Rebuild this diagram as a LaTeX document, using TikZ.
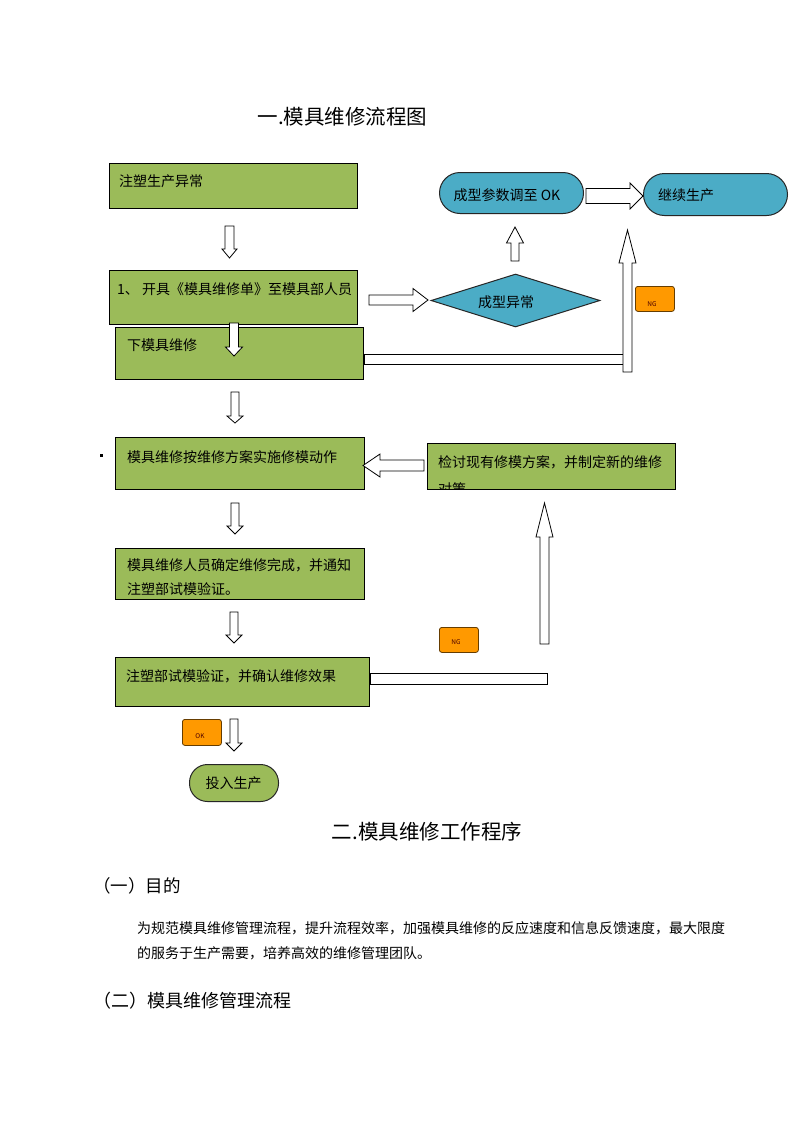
\documentclass[tikz,border=0pt]{standalone}
\usepackage{fontspec}
\setmainfont{Noto Sans CJK SC}
\usetikzlibrary{shapes.geometric}

\definecolor{boxgreen}{HTML}{9BBB59}
\definecolor{boxblue}{HTML}{4BACC6}
\definecolor{tagorange}{HTML}{FF9900}

% hollow block arrows: position, from, to, head length, shaft half width, head half width
\newcommand{\vblockarrow}[6]{%
  \draw[hollow] ({#1-#5},#2) -- ({#1+#5},#2) -- ({#1+#5},{#3-(#4)}) -- ({#1+#6},{#3-(#4)}) -- (#1,#3)
    -- ({#1-#6},{#3-(#4)}) -- ({#1-#5},{#3-(#4)}) -- cycle;}
\newcommand{\hblockarrow}[6]{%
  \draw[hollow] (#2,{#1-#5}) -- ({#3-(#4)},{#1-#5}) -- ({#3-(#4)},{#1-#6}) -- (#3,#1)
    -- ({#3-(#4)},{#1+#6}) -- ({#3-(#4)},{#1+#5}) -- (#2,{#1+#5}) -- cycle;}

\tikzset{
  gbox/.style={draw, fill=boxgreen, line width=1pt, anchor=north west, inner sep=0pt},
  pill/.style={draw=black!85, fill=boxblue, line width=1pt, anchor=north west, inner sep=0pt},
  tag/.style={draw=black!60!tagorange, fill=tagorange, line width=0.8pt, rounded corners=2.5pt,
    anchor=north west, inner sep=0pt, minimum width=39pt, minimum height=25pt},
  btext/.style={anchor=west, inner sep=0pt, font=\fontsize{14}{16}\selectfont},
  tagtext/.style={inner sep=0pt, text=black!70!red, font=\fontsize{6.5}{7}\selectfont},
  hollow/.style={draw, fill=white, line width=0.8pt, line join=miter},
}

\begin{document}
\begin{tikzpicture}[x=1pt,y=-1pt]
\useasboundingbox[fill=white] (0,0) rectangle (793,1122);

% title
\node[font=\fontsize{20.5}{24}\selectfont, inner sep=0pt] (title1) at (342.5,117) {一.模具维修流程图};

% left column
\node[gbox, minimum width=248pt, minimum height=45pt] (fault) at (109,163) {};
\node[btext] (faultt) at (119,181) {注塑生产异常};
\node[gbox, minimum width=248pt, minimum height=54pt] (order) at (109,270) {};
\node[btext] (ordert) at (117,289) {1、 开具《模具维修单》至模具部人员};
\node[gbox, minimum width=248pt, minimum height=52pt] (unload) at (115,327) {};
\node[btext] (unloadt) at (127,345) {下模具维修};
\node[gbox, minimum width=249pt, minimum height=52pt] (repair) at (115,437) {};
\node[btext] (repairt) at (127,457) {模具维修按维修方案实施修模动作};
\node[fill, inner sep=1.5pt] (dot) at (101,455) {};
\node[gbox, minimum width=249pt, minimum height=51pt] (done) at (115,548) {};
\node[btext, anchor=north west, align=left, font=\fontsize{14}{24}\selectfont] (donet) at (127,558)
  {模具维修人员确定维修完成，并通知\\注塑部试模验证。};
\node[gbox, minimum width=254pt, minimum height=49pt] (trial) at (115,657) {};
\node[btext] (trialt) at (126,676) {注塑部试模验证，并确认维修效果};
\node[pill, fill=boxgreen, rounded corners=18pt, minimum width=89pt, minimum height=37pt] (run) at (189,764) {};
\node[btext, anchor=center] (runt) at (233.5,783) {投入生产};

% right column
\node[diamond, draw=black!85, fill=boxblue, line width=1pt, minimum width=169pt, minimum height=53pt,
  inner sep=0pt] (odd) at (515.5,300.5) {};
\node[btext, anchor=center] (oddt) at (506,302) {成型异常};
\node[pill, rounded corners=20.5pt, minimum width=144pt, minimum height=41pt] (adjust) at (439,172) {};
\node[btext, anchor=center] (adjustt) at (507,195) {成型参数调至 OK};
\node[pill, rounded corners=21pt, minimum width=144pt, minimum height=42pt] (goon) at (643,173) {};
\node[btext] (goont) at (658,195) {继续生产};
\node[gbox, minimum width=248pt, minimum height=46pt] (review) at (427,443) {};
\node[btext] (reviewt) at (438,462) {检讨现有修模方案，并制定新的维修};
\begin{scope}
  \clip (427,443) rectangle (675,488.5);
  \node[btext] (reviewt2) at (438,489.5) {对策};
\end{scope}

% NG / OK tags
\node[tag] (ng1) at (635,286) {};
\node[tagtext] (ng1t) at (652,304) {NG};
\node[tag] (ng2) at (439,627) {};
\node[tagtext] (ng2t) at (456,642) {NG};
\node[tag, minimum height=26pt] (ok) at (182,719) {};
\node[tagtext] (okt) at (200,736) {OK};

% bars
\draw[hollow] (unload.east |- 0,354) rectangle (624,364);
\draw[hollow] (trial.east |- 0,673) rectangle (547,684);

% block arrows
\vblockarrow{229.5}{226}{258}{9}{4.5}{7.5}
\vblockarrow{234}{323}{356}{9}{4.5}{8.5}
\hblockarrow{300}{369}{428}{15}{5}{11.5}
\vblockarrow{515}{261}{227}{-16}{4}{8.5}
\hblockarrow{196}{586}{643}{13}{7.5}{13}
\vblockarrow{627.5}{372}{230}{-33}{4.5}{8.5}
\vblockarrow{235}{392}{423}{7}{4}{8}
\hblockarrow{465.5}{424}{363}{-17}{5.5}{11.5}
\vblockarrow{235}{503}{534}{8}{4}{8}
\vblockarrow{234}{612}{643}{8}{4}{8}
\vblockarrow{544.5}{644}{503}{-34}{4.5}{8.5}
\vblockarrow{234}{719}{751}{8}{4}{8}

% section two
\node[font=\fontsize{20.5}{24}\selectfont, inner sep=0pt] (title2) at (427,832) {二.模具维修工作程序};
\node[anchor=west, inner sep=0pt, font=\fontsize{17.5}{20}\selectfont] (aim) at (93,886) {（一）目的};
\node[anchor=north west, align=left, inner sep=0pt, font=\fontsize{14}{25}\selectfont] (aimtext) at (137,921)
  {为规范模具维修管理流程，提升流程效率，加强模具维修的反应速度和信息反馈速度，最大限度\\的服务于生产需要，培养高效的维修管理团队。};
\node[anchor=west, inner sep=0pt, font=\fontsize{18}{20}\selectfont] (flow) at (93,1001) {（二）模具维修管理流程};
\end{tikzpicture}
\end{document}
